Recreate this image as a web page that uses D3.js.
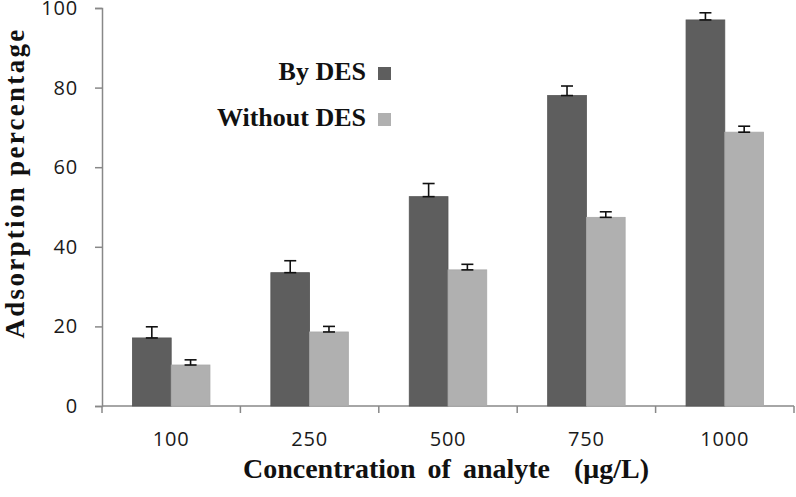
<!DOCTYPE html>
<html>
<head>
<meta charset="utf-8">
<script src="https://cdn.jsdelivr.net/npm/d3@7"></script>
<style>
  body { margin: 0; background: #fff; }
  .tick text, text.xlab { font-family: "Open Sans", sans-serif; font-size: 20px; fill: #1a1a1a; letter-spacing: 0.8px; }
  .title { font-family: "Liberation Serif", "Times New Roman", serif; font-weight: bold; fill: #111; }
</style>
</head>
<body>
<div id="chart"></div>
<script>
// data
var categories = ["100", "250", "500", "750", "1000"];
var seriesNames = ["By DES", "Without DES"];
var byDES = [17.1, 33.5, 52.6, 78.0, 97.0];
var byDESErr = [2.8, 3.0, 3.3, 2.4, 1.8];
var withoutDES = [10.3, 18.6, 34.2, 47.4, 68.8];
var withoutDESErr = [1.3, 1.4, 1.4, 1.4, 1.5];
var yTicks = [0, 20, 40, 60, 80, 100];

var width = 796, height = 497;
var plotLeft = 102, plotRight = 794, plotTop = 8, plotBottom = 406;
var colors = ["#5e5e5e", "#b0b0b0"];

var svg = d3.select("#chart").append("svg")
    .attr("width", width)
    .attr("height", height);

var x = d3.scaleBand()
    .domain(categories)
    .range([plotLeft, plotRight])
    .paddingInner(0.44)
    .paddingOuter(0.22);

var x1 = d3.scaleBand()
    .domain(seriesNames)
    .range([0, x.bandwidth()]);

var y = d3.scaleLinear()
    .domain([0, 100])
    .range([plotBottom, plotTop]);

var rows = categories.map(function(c, i) {
  return [
    { cat: c, s: seriesNames[0], v: byDES[i], e: byDESErr[i] },
    { cat: c, s: seriesNames[1], v: withoutDES[i], e: withoutDESErr[i] }
  ];
});

// y axis
var yAxis = d3.axisLeft(y).tickValues(yTicks).tickSize(7).tickPadding(17);
var gy = svg.append("g")
    .attr("transform", "translate(" + plotLeft + ",0)")
    .call(yAxis);
gy.select(".domain").attr("stroke", "#888").attr("stroke-width", 1.5);
gy.selectAll(".tick line").attr("stroke", "#888").attr("stroke-width", 1.5);
gy.attr("font-size", null).attr("font-family", null);

// x axis: line plus ticks at category boundaries
var step = x.step();
var bounds = [plotLeft].concat(categories.map(function(c) { return x(c) + x.bandwidth() / 2 + step / 2; }));
svg.append("line")
    .attr("x1", plotLeft).attr("x2", plotRight)
    .attr("y1", plotBottom).attr("y2", plotBottom)
    .attr("stroke", "#888").attr("stroke-width", 1.5);
svg.selectAll(".xtick").data(bounds).enter().append("line")
    .attr("class", "xtick")
    .attr("x1", function(d) { return d; }).attr("x2", function(d) { return d; })
    .attr("y1", plotBottom).attr("y2", plotBottom + 7)
    .attr("stroke", "#888").attr("stroke-width", 1.5);
svg.selectAll(".xlab").data(categories).enter().append("text")
    .attr("class", "xlab")
    .attr("x", function(d) { return x(d) + x.bandwidth() / 2; })
    .attr("y", 446)
    .attr("text-anchor", "middle")
    .text(function(d) { return d; });

// bars
var groups = svg.selectAll(".grp").data(rows).enter().append("g")
    .attr("class", "grp")
    .attr("transform", function(d) { return "translate(" + x(d[0].cat) + ",0)"; });

groups.selectAll("rect").data(function(d) { return d; }).enter().append("rect")
    .attr("x", function(d) { return x1(d.s); })
    .attr("width", x1.bandwidth())
    .attr("y", function(d) { return y(d.v); })
    .attr("height", function(d) { return y(0) - y(d.v); })
    .attr("fill", function(d, i) { return colors[i]; })
    .attr("stroke", function(d, i) { return i === 0 ? "#555" : "#a8a8a8"; })
    .attr("stroke-width", 0.8);

// error bars (plus side only, capped at both ends)
var cap = 6;
var eb = groups.selectAll(".eb").data(function(d) { return d; }).enter().append("g")
    .attr("class", "eb")
    .attr("stroke", "#111").attr("stroke-width", 1.6);
eb.append("line")
    .attr("x1", function(d) { return x1(d.s) + x1.bandwidth() / 2; })
    .attr("x2", function(d) { return x1(d.s) + x1.bandwidth() / 2; })
    .attr("y1", function(d) { return y(d.v); })
    .attr("y2", function(d) { return y(d.v + d.e); });
eb.append("line")
    .attr("x1", function(d) { return x1(d.s) + x1.bandwidth() / 2 - cap; })
    .attr("x2", function(d) { return x1(d.s) + x1.bandwidth() / 2 + cap; })
    .attr("y1", function(d) { return y(d.v + d.e); })
    .attr("y2", function(d) { return y(d.v + d.e); });
eb.append("line")
    .attr("x1", function(d) { return x1(d.s) + x1.bandwidth() / 2 - cap; })
    .attr("x2", function(d) { return x1(d.s) + x1.bandwidth() / 2 + cap; })
    .attr("y1", function(d) { return y(d.v); })
    .attr("y2", function(d) { return y(d.v); });

// legend
var legend = svg.selectAll(".leg").data(seriesNames).enter().append("g")
    .attr("class", "leg")
    .attr("transform", function(d, i) { return "translate(0," + (80 + i * 46) + ")"; });
legend.append("text")
    .attr("class", "title")
    .attr("x", 366)
    .attr("text-anchor", "end")
    .style("font-size", "26px")
    .text(function(d) { return d; });
legend.append("rect")
    .attr("x", 378).attr("y", -13)
    .attr("width", 13).attr("height", 13)
    .attr("fill", function(d, i) { return colors[i]; });

// axis titles
svg.append("text")
    .attr("class", "title")
    .attr("x", (plotLeft + plotRight) / 2 - 2)
    .attr("y", 478)
    .attr("text-anchor", "middle")
    .style("font-size", "28px")
    .style("word-spacing", "5px")
    .attr("xml:space", "preserve")
    .text("Concentration of analyte  (\u03bcg/L)");

svg.append("text")
    .attr("class", "title")
    .attr("transform", "translate(24,183) rotate(-90)")
    .attr("text-anchor", "middle")
    .style("font-size", "27px")
    .style("letter-spacing", "2.3px")
    .text("Adsorption percentage");
</script>
</body>
</html>
